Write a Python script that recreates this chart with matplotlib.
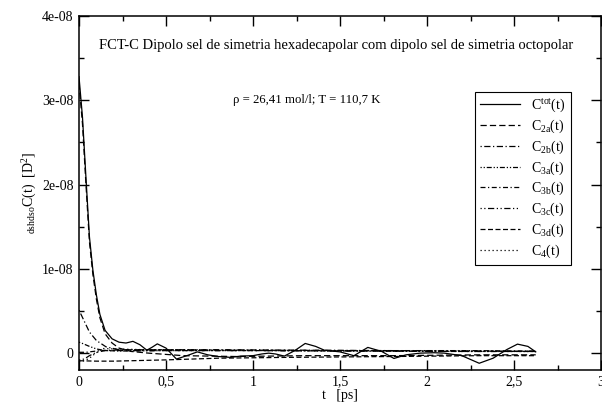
import matplotlib
matplotlib.use("Agg")
import matplotlib.pyplot as plt
from matplotlib.ticker import MultipleLocator, FuncFormatter

plt.rcParams['font.family'] = ['Liberation Serif', 'DejaVu Serif']
plt.rcParams['mathtext.fontset'] = 'custom'
plt.rcParams['mathtext.rm'] = 'Liberation Serif'
plt.rcParams['mathtext.it'] = 'Liberation Serif:italic'

# time axis (ps) and correlation functions (in units of 1e-8 D^2)
t_tot = [0, 0.02, 0.04, 0.06, 0.08, 0.10, 0.12, 0.15, 0.19, 0.23, 0.27, 0.31,
         0.35, 0.39, 0.42, 0.45, 0.50, 0.56, 0.62, 0.68, 0.74, 0.80, 0.87, 0.93, 1.00,
         1.05, 1.09, 1.13, 1.18, 1.24, 1.30, 1.36, 1.41, 1.50, 1.58, 1.66, 1.74, 1.81, 1.88,
         1.96, 2.04, 2.10, 2.20, 2.30, 2.38, 2.46, 2.52, 2.58, 2.625]
c_tot = [3.28, 2.80, 2.08, 1.38, 0.98, 0.69, 0.46, 0.27, 0.17, 0.13, 0.12, 0.14,
         0.10, 0.035, 0.07, 0.11, 0.06, -0.07, -0.03, 0.015, -0.02, -0.04, -0.05, -0.035, -0.03,
         -0.01, 0.0, -0.01, -0.035, 0.03, 0.115, 0.08, 0.035, 0.015, -0.03, 0.068, 0.02, -0.063, -0.02,
         0.0, 0.005, 0.0, -0.03, -0.12, -0.06, 0.044, 0.107, 0.08, 0.015]

t_2a = [0, 0.02, 0.04, 0.06, 0.08, 0.10, 0.12, 0.15, 0.19, 0.23, 0.30, 0.40,
        0.60, 0.90, 1.30, 1.80, 2.30, 2.625]
c_2a = [3.20, 2.72, 2.00, 1.32, 0.93, 0.64, 0.42, 0.23, 0.12, 0.06, 0.02, 0.0,
        -0.03, -0.04, -0.03, -0.03, -0.02, -0.02]

t_2b = [0, 0.03, 0.06, 0.10, 0.155, 0.23, 0.40, 0.80, 1.30, 1.80, 2.30, 2.625]
c_2b = [0.51, 0.38, 0.25, 0.15, 0.075, 0.04, 0.04, 0.04, 0.035, 0.03, 0.025, 0.02]

t_3a = [0, 0.02, 0.06, 0.10, 0.15, 0.25, 0.50, 1.00, 1.60, 2.20, 2.625]
c_3a = [0.13, 0.115, 0.08, 0.05, 0.03, 0.025, 0.03, 0.03, 0.025, 0.02, 0.02]

t_3b = [0, 0.04, 0.08, 0.12, 0.18, 0.30, 0.60, 1.00, 1.60, 2.20, 2.625]
c_3b = [0.01, 0.01, 0.02, 0.03, 0.035, 0.04, 0.04, 0.035, 0.03, 0.03, 0.025]

t_3c = [0, 0.03, 0.06, 0.10, 0.15, 0.25, 0.50, 1.00, 1.60, 2.20, 2.625]
c_3c = [-0.08, -0.07, -0.03, 0.01, 0.03, 0.03, 0.03, 0.03, 0.025, 0.02, 0.02]

t_3d = [0, 0.10, 0.20, 0.30, 0.50, 0.80, 1.20, 1.80, 2.30, 2.625]
c_3d = [-0.09, -0.095, -0.095, -0.09, -0.08, -0.06, -0.05, -0.04, -0.03, -0.03]

t_4 = [0, 0.03, 0.06, 0.09, 0.136, 0.20, 0.40, 0.80, 1.40, 2.00, 2.625]
c_4 = [-0.10, -0.09, -0.06, -0.01, 0.055, 0.05, 0.04, 0.035, 0.03, 0.025, 0.02]

labels = [r'C$^{\rm tot}$(t)', r'C$_{\rm 2a}$(t)', r'C$_{\rm 2b}$(t)', r'C$_{\rm 3a}$(t)',
          r'C$_{\rm 3b}$(t)', r'C$_{\rm 3c}$(t)', r'C$_{\rm 3d}$(t)', r'C$_{\rm 4}$(t)']

series = [(t_tot, c_tot, '-'),
          (t_2a, c_2a, (0, (5, 2.5))),
          (t_2b, c_2b, (0, (1, 2, 5, 2))),
          (t_3a, c_3a, (0, (1, 1.5, 1, 1.5, 4, 1.5))),
          (t_3b, c_3b, (0, (4, 2, 1, 2))),
          (t_3c, c_3c, (0, (1, 2, 1, 2, 5, 2))),
          (t_3d, c_3d, (0, (4, 2))),
          (t_4, c_4, (0, (1, 2.2)))]

fig = plt.figure(figsize=(6.02, 4.05), dpi=100)
ax = fig.add_axes([79 / 602, 35 / 405, 522 / 602, 354 / 405])

for (tt, cc, ls), lab in zip(series, labels):
    ax.plot(tt, [v * 1e-8 for v in cc], color='black', lw=0.9, linestyle=ls, label=lab)

ax.set_xlim(0, 3)
ax.set_ylim(-2e-9, 4e-8)
ax.xaxis.set_major_locator(MultipleLocator(0.5))
ax.xaxis.set_minor_locator(MultipleLocator(0.25))
ax.yaxis.set_major_locator(MultipleLocator(1e-8))
ax.yaxis.set_minor_locator(MultipleLocator(0.5e-8))
ax.xaxis.set_major_formatter(FuncFormatter(lambda v, p: ('%g' % v).replace('.', ',')))
ax.yaxis.set_major_formatter(FuncFormatter(lambda v, p: '0' if abs(v) < 1e-12 else '%.0e' % v))
ax.tick_params(which='both', direction='in', top=True, right=True, labelsize=10, width=1)
ax.tick_params(which='major', length=7)
ax.tick_params(axis='x', which='major', pad=4)
ax.tick_params(axis='y', which='major', pad=4)
ax.tick_params(which='minor', length=3.5)
for s in ax.spines.values():
    s.set_linewidth(1.1)

ax.set_xlabel('t   [ps]', fontsize=10, labelpad=0)
ax.set_ylabel(r'$_{\rm dshdso}$C(t)  [D$^2$]', fontsize=10, labelpad=2)

ax.text(0.493, 0.918, 'FCT-C Dipolo sel de simetria hexadecapolar com dipolo sel de simetria octopolar',
        transform=ax.transAxes, ha='center', va='center', fontsize=10.5)
ax.text(0.437, 0.763, 'ρ = 26,41 mol/l; T = 110,7 K', transform=ax.transAxes,
        ha='center', va='center', fontsize=9.2)

leg = ax.legend(loc='upper left', bbox_to_anchor=(0.759, 0.786), fontsize=10,
                frameon=True, fancybox=False, edgecolor='black', framealpha=1,
                handlelength=2.9, handletextpad=0.8, labelspacing=0.25,
                borderpad=0.35, borderaxespad=0)
leg.get_frame().set_linewidth(0.8)

fig.savefig('out.png', dpi=100)
